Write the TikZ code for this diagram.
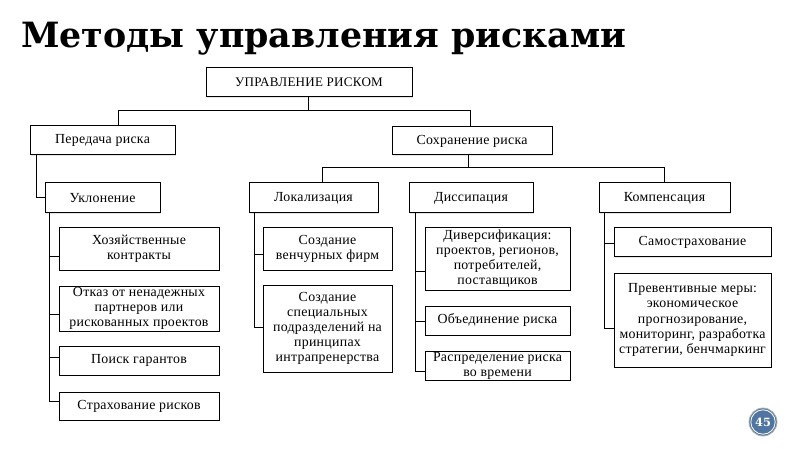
\documentclass[tikz,border=0pt]{standalone}
\usepackage{fontspec}
\setmainfont{Liberation Serif}
\newfontfamily\titlefont{DejaVu Serif}
\newfontfamily\boxfont[LetterSpace=2]{Liberation Serif}
\usetikzlibrary{shadows}
\definecolor{pgblue}{RGB}{80,117,160}
\tikzset{
  bx/.style={draw=black, line width=0.75pt, fill=white, inner sep=0pt, align=center,
    font=\boxfont\fontsize{10.4pt}{11.3pt}\selectfont,
    drop shadow={shadow xshift=1pt, shadow yshift=-1pt, opacity=0.1, fill=black}},
  ln/.style={draw=black, line width=0.75pt},
}
\newcommand\bx[6]{\node[bx, minimum width={(#4-#2)*0.75pt}, minimum height={(#5-#3)*0.75pt}] (#1) at ({(#2+#4)/2},{(#3+#5)/2}) {#6};}
\begin{document}
\begin{tikzpicture}[x=0.75pt, y=-0.75pt]
\useasboundingbox (0,0) rectangle (800,449);
\node[anchor=base west, inner sep=0pt, font=\titlefont\bfseries\fontsize{26.1pt}{30pt}\selectfont] (title) at (21,48) {Методы управления рисками};
% boxes
\bx{root}{206}{68}{412}{97}{\fontsize{9.8pt}{11pt}\selectfont УПРАВЛЕНИЕ РИСКОМ}
\bx{per}{30}{126}{175}{155}{Передача риска}
\bx{sox}{392}{127}{552}{155}{Сохранение риска}
\bx{uk}{45}{183}{160}{213}{Уклонение}
\bx{lok}{249}{183}{378}{213}{Локализация}
\bx{dis}{409}{183}{533}{213}{Диссипация}
\bx{komp}{599}{183}{730}{213}{Компенсация}
\bx{hoz}{59}{228}{219}{270}{Хозяйственные\\контракты}
\bx{otk}{59}{286}{219}{331}{Отказ от ненадежных\\партнеров или\\рискованных проектов}
\bx{poi}{59}{346}{219}{375}{Поиск гарантов}
\bx{str}{59}{392}{219}{420}{Страхование рисков}
\bx{ven}{263}{228}{392}{270}{Создание\\венчурных фирм}
\bx{spec}{263}{285}{392}{372}{Создание\\специальных\\подразделений на\\принципах\\интрапренерства}
\bx{div}{425}{228}{570}{290}{Диверсификация:\\проектов, регионов,\\потребителей,\\поставщиков}
\bx{obj}{425}{306}{570}{335}{Объединение риска}
\bx{rasp}{425}{351}{570}{380}{Распределение риска\\во времени}
\bx{sam}{614}{228}{771}{257}{Самострахование}
\bx{prev}{614}{273}{771}{367}{Превентивные меры:\\экономическое\\прогнозирование,\\мониторинг, разработка\\стратегии, бенчмаркинг}
% connectors
\draw[ln] (root.south -| 308,0) -- (308,111);
\draw[ln] (per.north -| 118,0) -- (118,111) -- (470,111) -- (sox.north -| 470,0);
\draw[ln] (per.south -| 36,0) |- (uk.west);
\draw[ln] (sox.south -| 468,0) -- (468,168);
\draw[ln] (lok.north -| 322,0) -- (322,168) -- (664,168) -- (komp.north -| 664,0);
% Uklonenie trunk
\draw[ln] (uk.south -| 49,0) |- (str.west |- 0,401);
\draw[ln] (49,257) -- (hoz.west |- 0,257);
\draw[ln] (49,314) -- (otk.west |- 0,314);
\draw[ln] (49,357) -- (poi.west |- 0,357);
% Lokalizacia trunk
\draw[ln] (lok.south -| 254,0) |- (spec.west |- 0,327);
\draw[ln] (254,255) -- (ven.west |- 0,255);
% Dissipacia trunk
\draw[ln] (dis.south -| 415,0) |- (rasp.west |- 0,371);
\draw[ln] (415,271) -- (div.west |- 0,271);
\draw[ln] (415,321) -- (obj.west |- 0,321);
% Kompensacia trunk
\draw[ln] (komp.south -| 604,0) |- (prev.west |- 0,328);
\draw[ln] (604,244) -- (sam.west |- 0,244);
% page number
\node[circle, fill=pgblue, draw=gray!60, line width=0.6pt, minimum size=28*0.75pt, inner sep=0pt] (pg) at (763,422) {};
\draw[white, line width=0.6pt] (pg.center) circle (12.2*0.75pt);
\node[text=white, font=\titlefont\bfseries\fontsize{8.5pt}{9pt}\selectfont] (pgt) at (pg.center) {45};
\end{tikzpicture}
\end{document}
